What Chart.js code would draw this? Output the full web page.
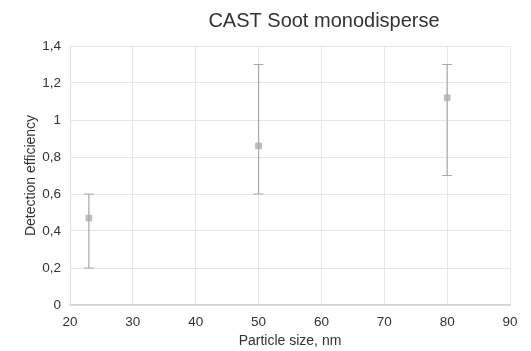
<!DOCTYPE html>
<html>
<head>
<meta charset="utf-8">
<script src="https://cdn.jsdelivr.net/npm/chart.js@4"></script>
<style>
  html, body { margin: 0; padding: 0; background: #fff; }
  #wrap { width: 531px; height: 351px; }
</style>
</head>
<body>
<div id="wrap"><canvas id="chart" width="531" height="351"></canvas></div>
<script>
const titleText = "CAST Soot monodisperse";
const sizes = [23, 50, 80];
const efficiency = [0.47, 0.86, 1.12];
const errLow = [0.2, 0.6, 0.7];
const errHigh = [0.6, 1.3, 1.3];
const xTicks = [20, 30, 40, 50, 60, 70, 80, 90];
const yTicks = [0, 0.2, 0.4, 0.6, 0.8, 1, 1.2, 1.4];

const font = "'Liberation Sans', Arial, sans-serif";

// error bars + title drawn on top, positions taken from the chart scales
const extras = {
  id: "extras",
  afterDatasetsDraw(chart) {
    const { ctx, scales } = chart;
    ctx.save();
    ctx.strokeStyle = "#a9a9a9";
    ctx.lineWidth = 1.2;
    sizes.forEach((s, i) => {
      const x = scales.x.getPixelForValue(s);
      const y1 = scales.y.getPixelForValue(errLow[i]);
      const y2 = scales.y.getPixelForValue(errHigh[i]);
      ctx.beginPath();
      ctx.moveTo(x, y1); ctx.lineTo(x, y2);
      ctx.moveTo(x - 5, y1); ctx.lineTo(x + 5, y1);
      ctx.moveTo(x - 5, y2); ctx.lineTo(x + 5, y2);
      ctx.stroke();
    });
    ctx.restore();
  },
  afterDraw(chart) {
    const ctx = chart.ctx;
    ctx.save();
    ctx.fillStyle = "#333";
    ctx.font = "20px " + font;
    ctx.textAlign = "center";
    ctx.textBaseline = "middle";
    ctx.fillText(titleText, 324, 21);
    ctx.restore();
  }
};

new Chart(document.getElementById("chart"), {
  type: "scatter",
  data: {
    datasets: [{
      data: sizes.map((s, i) => ({ x: s, y: efficiency[i] })),
      backgroundColor: "#c0c0c0",
      borderColor: "#b8b8b8",
      pointStyle: "rect",
      pointRadius: 4,
      borderWidth: 1
    }]
  },
  options: {
    responsive: false,
    animation: false,
    layout: { padding: { left: 19, right: 21, top: 46, bottom: 0 } },
    plugins: { legend: { display: false }, tooltip: { enabled: false } },
    scales: {
      x: {
        type: "linear",
        min: 20, max: 90,
        afterBuildTicks: axis => { axis.ticks = xTicks.map(v => ({ value: v })); },
        afterFit: axis => { axis.height = 46; },
        grid: { color: "#e6e6e6", tickLength: 0, drawTicks: false },
        border: { color: "#d2d2d2", width: 1.5 },
        ticks: { color: "#333", font: { family: font, size: 13.5 }, padding: 9 },
        title: { display: true, text: "Particle size, nm", color: "#333", font: { family: font, size: 14 }, padding: { top: 7, bottom: 1 } }
      },
      y: {
        min: 0, max: 1.4,
        afterBuildTicks: axis => { axis.ticks = yTicks.map(v => ({ value: v })); },
        afterFit: axis => { axis.width = 51; },
        grid: { color: "#e6e6e6", drawTicks: false },
        border: { color: "#e0e0e0" },
        ticks: {
          color: "#333", font: { family: font, size: 13.5 }, padding: 9,
          callback: v => String(Math.round(v * 10) / 10).replace(".", ",")
        },
        title: { display: true, text: "Detection efficiency", color: "#333", font: { family: font, size: 14 }, padding: { bottom: 4 } }
      }
    }
  },
  plugins: [extras]
});
</script>
</body>
</html>
